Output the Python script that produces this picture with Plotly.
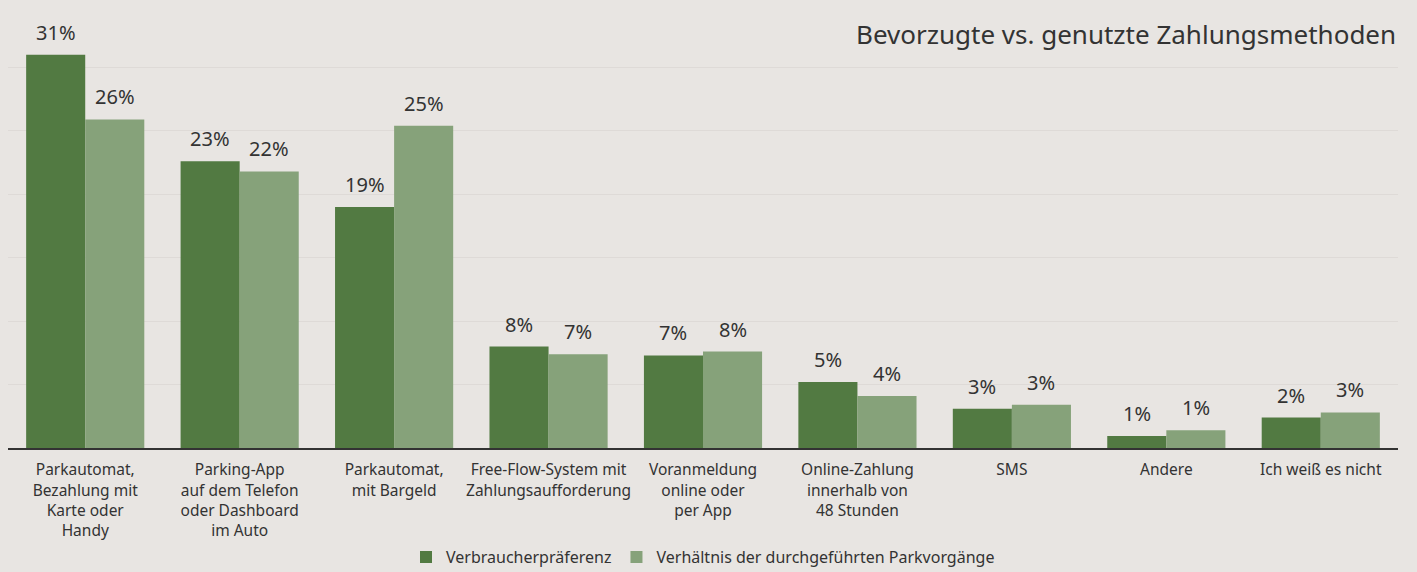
import plotly.graph_objects as go

categories = [
    "Parkautomat,<br>Bezahlung mit<br>Karte oder<br>Handy",
    "Parking-App<br>auf dem Telefon<br>oder Dashboard<br>im Auto",
    "Parkautomat,<br>mit Bargeld",
    "Free-Flow-System mit<br>Zahlungsaufforderung",
    "Voranmeldung<br>online oder<br>per App",
    "Online-Zahlung<br>innerhalb von<br>48 Stunden",
    "SMS",
    "Andere",
    "Ich weiß es nicht",
]
praeferenz = [31.0, 22.6, 19.0, 8.0, 7.3, 5.2, 3.1, 0.95, 2.4]
parkvorgaenge = [25.9, 21.8, 25.4, 7.4, 7.6, 4.1, 3.4, 1.4, 2.8]
praeferenz_labels = ["31%", "23%", "19%", "8%", "7%", "5%", "3%", "1%", "2%"]
parkvorgaenge_labels = ["26%", "22%", "25%", "7%", "8%", "4%", "3%", "1%", "3%"]

FONT = "Noto Sans"
TXT = "#333333"
BG = "#e8e5e2"
W, H = 1417, 572
ML, MR, MT, MB = 8, 19, 4, 124
BARGAP = 0.235

fig = go.Figure()
fig.add_trace(go.Bar(
    x=categories, y=praeferenz, name="Verbraucherpräferenz",
    marker=dict(color="#527a42", line=dict(width=0)),
))
fig.add_trace(go.Bar(
    x=categories, y=parkvorgaenge, name="Verhältnis der durchgeführten Parkvorgänge",
    marker=dict(color="#86a27a", line=dict(width=0)),
))

# value labels above each bar, offset to the left/right bar of the group
bar_px = (W - ML - MR) / len(categories) * (1 - BARGAP) / 2
for shift, vals, labels in [(-bar_px / 2, praeferenz, praeferenz_labels),
                            (bar_px / 2, parkvorgaenge, parkvorgaenge_labels)]:
    for c, v, t in zip(categories, vals, labels):
        fig.add_annotation(x=c, y=v, text=t, xref="x", yref="y",
                           xshift=shift, yshift=7, yanchor="bottom",
                           showarrow=False,
                           font=dict(size=20, color=TXT, family=FONT))

fig.update_layout(
    width=W, height=H,
    paper_bgcolor=BG, plot_bgcolor=BG,
    margin=dict(l=ML, r=MR, t=MT, b=MB, autoexpand=False),
    barmode="group", bargap=BARGAP, bargroupgap=0,
    font=dict(family=FONT, color=TXT, size=15),
    showlegend=True,
    legend=dict(orientation="h", x=0.5, xanchor="center",
                yref="container", y=0.026, yanchor="middle",
                font=dict(size=16, color=TXT, family=FONT), itemwidth=30,
                traceorder="normal"),
    xaxis=dict(showline=True, linecolor="#333333", linewidth=1.5, ticks="",
               tickfont=dict(size=15.5, color=TXT, family=FONT), showgrid=False,
               ticklabelstandoff=7, automargin=False),
    yaxis=dict(range=[0, 35], dtick=5, showticklabels=False, showgrid=True,
               gridcolor="#dedad7", gridwidth=1, zeroline=False, automargin=False),
)
fig.add_annotation(text="Bevorzugte vs. genutzte Zahlungsmethoden",
                   xref="paper", yref="paper", x=1.0, y=0.932,
                   xanchor="right", yanchor="middle", showarrow=False,
                   font=dict(size=26, color=TXT, family=FONT))

fig.write_html("out.html", config={"displayModeBar": False},
               post_script="document.body.style.margin='0';")
